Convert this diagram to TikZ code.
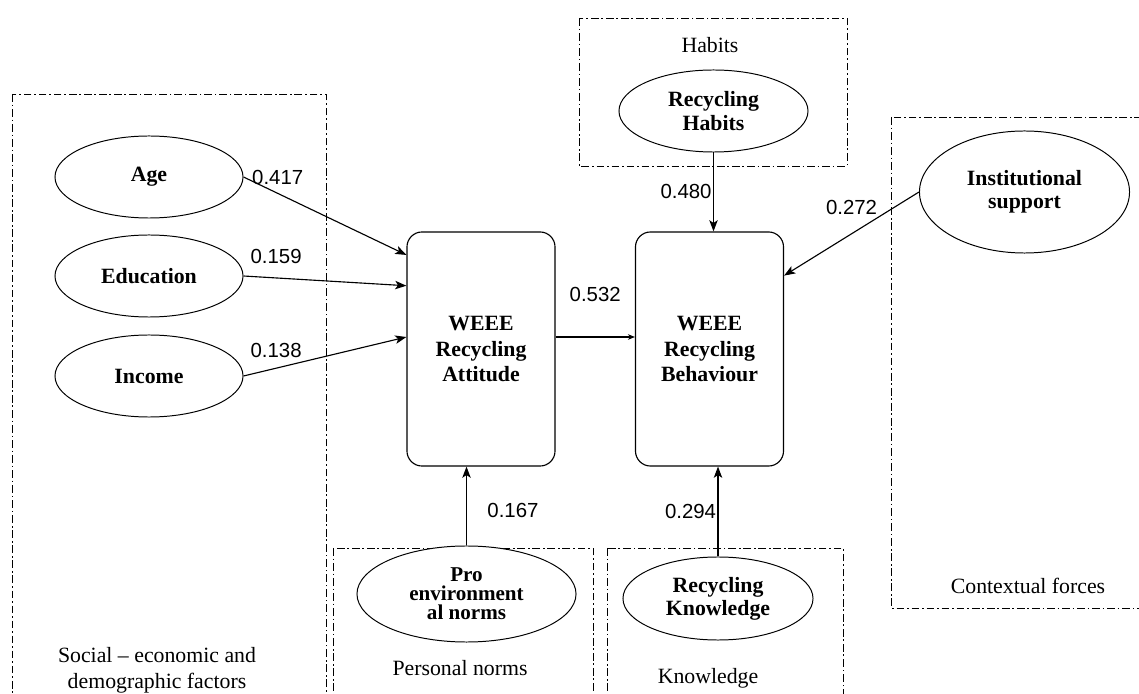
\documentclass[tikz,border=0pt]{standalone}
\usepackage{fontspec}
\setmainfont{Liberation Serif}
\newfontfamily\numfont{Liberation Sans}
\usetikzlibrary{arrows.meta,shapes.geometric,positioning,calc}

\begin{document}
\begin{tikzpicture}[
    x = 0.025cm, y = -0.025cm, % one unit = one pixel of the figure
    > = {Stealth[length=8pt,width=6pt,inset=2pt]}, % arrow head style
    auto,
    line width = 0.8pt % line style
    ]

    \tikzset{
    factor/.style={ellipse, draw = black, line width = 0.7pt, fill = white,
        inner sep = 1pt, align = center,
        font = \fontsize{15.5}{16.5}\selectfont\bfseries},
    core/.style={rectangle, rounded corners = 0.375cm, draw = black, fill = white,
        minimum width = 3.7cm, minimum height = 5.85cm, align = center,
        font = \fontsize{15.5}{18}\selectfont\bfseries},
    group/.style={draw = black, line width = 0.6pt,
        dash pattern = on 5.5pt off 2pt on 1.2pt off 2pt},
    grouptitle/.style={align = center, font = \fontsize{15.5}{18.5}\selectfont},
    coef/.style={font = \numfont\fontsize{14.5}{15}\selectfont, inner sep = 1pt}
    }

    \useasboundingbox (0,0) rectangle (1139,694);
    \clip (0,0) rectangle (1139,694);
    \fill[white] (0,0) rectangle (1139,694);

    % groups of factors
    \draw[group] (12,94) rectangle (326,700);
    \draw[group] (579,18) rectangle (847,166);
    \draw[group] (891,117) rectangle (1150,608);
    \draw[group] (333,548) rectangle (593,700);
    \draw[group] (607,548) rectangle (843,700);

    \node[grouptitle] (tsoc) at (157,670) {Social – economic and\\demographic factors};
    \node[grouptitle] (thab) at (710,45) {Habits};
    \node[grouptitle] (tctx) at (1028,586) {Contextual forces};
    \node[grouptitle] (tpers) at (460,668) {Personal norms};
    \node[grouptitle] (tknow) at (708,678) {Knowledge};

    % factors
    \node[factor, minimum width = 4.7cm, minimum height = 2.05cm] (age) at (149,177) {Age};
    \node[factor, minimum width = 4.7cm, minimum height = 2.05cm] (edu) at (149,276) {Education};
    \node[factor, minimum width = 4.7cm, minimum height = 2.05cm] (inc) at (149,376) {Income};
    \node[factor, minimum width = 4.725cm, minimum height = 2.05cm] (hab) at (713.5,111) {Recycling\\Habits};
    \node[factor, minimum width = 5.25cm, minimum height = 3.05cm] (inst) at (1024.5,192) {Institutional\\support};
    \node[factor, minimum width = 5.475cm, minimum height = 2.4cm,
        font = \fontsize{15}{13.5}\selectfont\bfseries] (pro) at (466.5,594) {Pro\\environment\\al norms};
    \node[factor, minimum width = 4.75cm, minimum height = 2.075cm] (know) at (718,598.5) {Recycling\\Knowledge};

    % attitude and behaviour
    \node[core] (att) at (481,349) {WEEE\\Recycling\\Attitude};
    \node[core] (beh) at (709.5,349) {WEEE\\Recycling\\Behaviour};

    % paths
    \path[->] (age.east) edge node[coef, pos = 0.21, above = 5pt, name = w417] {0.417}
        ($(att.north west)!0.1!(att.south west)$);
    \path[->] (edu.east) edge node[coef, pos = 0.2, above = 8.5pt, name = w159] {0.159}
        ($(att.north west)!0.231!(att.south west)$);
    \path[->] (inc.east) edge node[coef, pos = 0.2, above = 6pt, name = w138] {0.138}
        ($(att.north west)!0.449!(att.south west)$);
    \path[-{Stealth[length=5pt,width=4pt]}] ($(att.north east)!0.449!(att.south east)$)
        edge node[coef, pos = 0.5, above = 23.5pt, name = w532] {0.532}
        ($(beh.north west)!0.449!(beh.south west)$);
    \path[->] (hab.south) edge node[coef, pos = 0.5, left = 0pt, name = w480] {0.480}
        (hab.south |- beh.north);
    \path[->] (inst.west) edge node[coef, pos = 0.5, above = 12pt, name = w272] {0.272}
        ($(beh.north east)!0.188!(beh.south east)$);
    \path[->] (pro.north) edge node[coef, pos = 0.44, right = 13.5pt, name = w167] {0.167}
        (pro.north |- att.south);
    \path[->] (know.north) edge node[coef, pos = 0.5, left = 0pt, name = w294] {0.294}
        (know.north |- beh.south);
\end{tikzpicture}
\end{document}
